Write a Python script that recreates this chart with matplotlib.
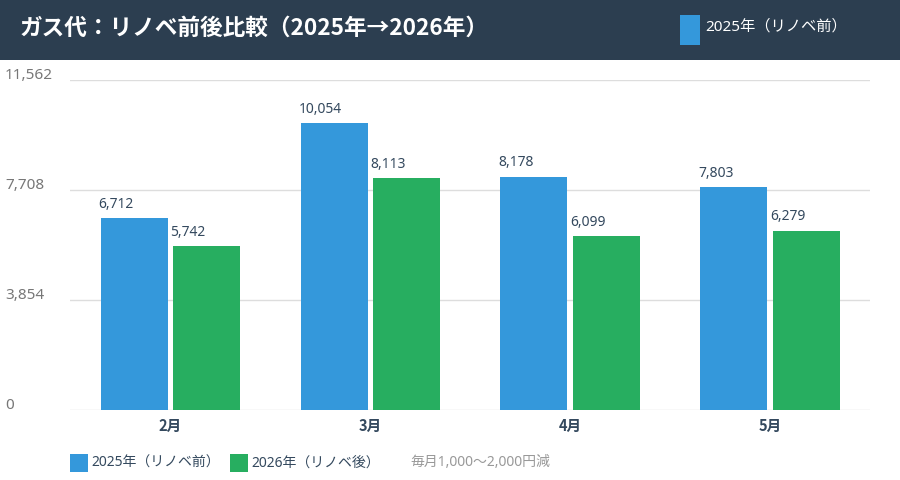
import matplotlib
matplotlib.use("Agg")
import matplotlib.pyplot as plt
from matplotlib.patches import Rectangle
import matplotlib.transforms as mtransforms

plt.rcParams['font.family'] = ['Noto Sans', 'Noto Sans CJK JP', 'DejaVu Sans']

categories = ["2月", "3月", "4月", "5月"]
before_2025 = [6712, 10054, 8178, 7803]
after_2026 = [5742, 8113, 6099, 6279]
yticks = [0, 3854, 7708, 11562]
series_names = ["2025年（リノベ前）", "2026年（リノベ後）"]
title = "ガス代：リノベ前後比較（2025年→2026年）"
note = "毎月1,000〜2,000円減"

BLUE = "#3498db"
GREEN = "#27ae60"
HEADER = "#2c3e50"
TEXT = "#34495e"

W, H = 900, 480
fig = plt.figure(figsize=(9, 4.8), dpi=100)

# header band
fig.patches.append(Rectangle((0, 1 - 60 / H), 1, 60 / H, transform=fig.transFigure,
                             facecolor=HEADER, edgecolor='none', zorder=0))
fig.text(20 / W, 1 - 28 / H, title, color='white', fontsize=16.3, fontweight='bold',
         va='center', ha='left', family=['Noto Sans CJK JP', 'DejaVu Sans'])
fig.patches.append(Rectangle((680 / W, 1 - 45 / H), 20 / W, 30 / H, transform=fig.transFigure,
                             facecolor=BLUE, edgecolor='none'))
fig.text(705 / W, 1 - 27 / H, series_names[0], color='white', fontsize=11,
         va='center', ha='left')

ax = fig.add_axes([70 / W, 70 / H, 800 / W, 330 / H])
ax.set_xlim(-0.5, len(categories) - 0.5)
ax.set_ylim(yticks[0], yticks[-1])
for s in ax.spines.values():
    s.set_visible(False)
ax.set_xticks([])
ax.set_yticks([])
for t in yticks:
    ax.axhline(t, color='#dddddd', lw=1, zorder=0)

bw = 0.335
off = 0.18
x = list(range(len(categories)))
xb = [i - off for i in x]
xg = [i + off for i in x]
ax.bar(xb, before_2025, width=bw, color=BLUE, zorder=2)
ax.bar(xg, after_2026, width=bw, color=GREEN, zorder=2)

for xs, vals in ((xb, before_2025), (xg, after_2026)):
    for xi, v in zip(xs, vals):
        ax.annotate(f"{v:,}", (xi - bw / 2, v), xytext=(-1.5, 10), textcoords='offset points',
                    ha='left', va='center', fontsize=10, color=TEXT)

for xi, c in zip(x, categories):
    ax.annotate(c, (xi, 0), xytext=(0, -11.5), textcoords='offset points',
                ha='center', va='center', fontsize=10.5, fontweight='bold', color=TEXT,
                family=['Noto Sans CJK JP', 'DejaVu Sans'])

trans = mtransforms.blended_transform_factory(fig.transFigure, ax.transData)
for t in yticks:
    ax.annotate(f"{t:,}", (5 / W, t), xycoords=trans, xytext=(0, 3), textcoords='offset points',
                ha='left', va='center', fontsize=11, color='#777777', annotation_clip=False)

# bottom legend
ly = 1 - 463 / H
fig.patches.append(Rectangle((70 / W, ly - 9 / H), 18 / W, 18 / H, transform=fig.transFigure,
                             facecolor=BLUE, edgecolor='none'))
fig.text(91 / W, ly, series_names[0], color=TEXT, fontsize=10, va='center', ha='left')
fig.patches.append(Rectangle((230 / W, ly - 9 / H), 18 / W, 18 / H, transform=fig.transFigure,
                             facecolor=GREEN, edgecolor='none'))
fig.text(251 / W, ly, series_names[1], color=TEXT, fontsize=10, va='center', ha='left')
fig.text(410 / W, ly, note, color='#999999', fontsize=10, va='center', ha='left')

fig.savefig("out.png", dpi=100, facecolor='white')
